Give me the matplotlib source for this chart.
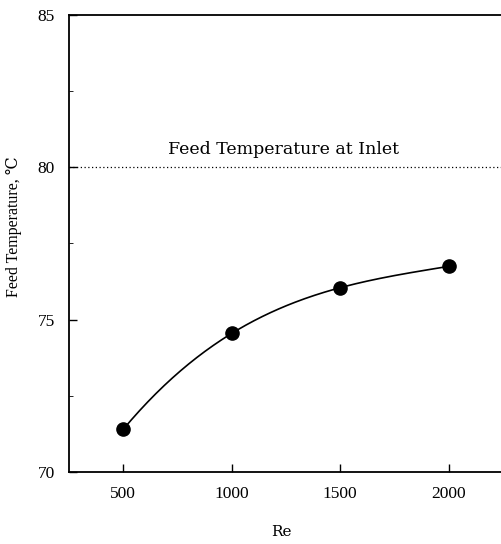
'''Feed temperature vs Re with inlet reference line.'''
import matplotlib
matplotlib.use('Agg')
import matplotlib.pyplot as plt
import numpy as np

re_vals = [500, 1000, 1500, 2000]
feed_temp = [71.4, 74.55, 76.05, 76.75]
inlet_temp = 80.0

serif = ['Liberation Serif', 'DejaVu Serif']
plt.rcParams.update({'font.family': serif})
plt.rcParams.update({'font.size': 12.5})

fig = plt.figure(figsize=(5.01, 5.44), dpi=100)
ax = fig.add_axes([0.1377, 0.1324, 0.8663, 0.84])

# smooth line through the four points
coef = np.polyfit(re_vals, feed_temp, 3)
xs = np.linspace(re_vals[0], re_vals[-1], 200)
ax.plot(xs, np.polyval(coef, xs), color='black', lw=1.2)
ax.plot(re_vals, feed_temp, 'o', color='black', ms=9.5)

ax.axhline(inlet_temp, color='black', lw=0.9, ls=(0, (1, 2)))
ax.text(1240, 80.3, 'Feed Temperature at Inlet', ha='center', va='bottom',
        family='DejaVu Serif', fontsize=12.5)

ax.set_xlim(250, 2250)
ax.set_ylim(70, 85)
ax.set_xticks(re_vals)
ax.set_yticks([70, 75, 80, 85])
ax.set_yticks([72.5, 77.5, 82.5], minor=True)
ax.tick_params(direction='in', length=6, width=1, top=False, right=False, pad=10)
ax.tick_params(which='minor', direction='in', length=3)
ax.spines['right'].set_visible(False)
for s in ['left', 'bottom', 'top']:
    ax.spines[s].set_linewidth(1.3)

ax.set_xlabel('Re', family='DejaVu Serif', fontsize=11)
ax.xaxis.set_label_coords(0.49, -0.117)
ax.set_ylabel('Feed Temperature, \u2103', fontsize=11.5)
ax.yaxis.set_label_coords(-0.108, 0.536)

fig.savefig('out.png', dpi=100)
